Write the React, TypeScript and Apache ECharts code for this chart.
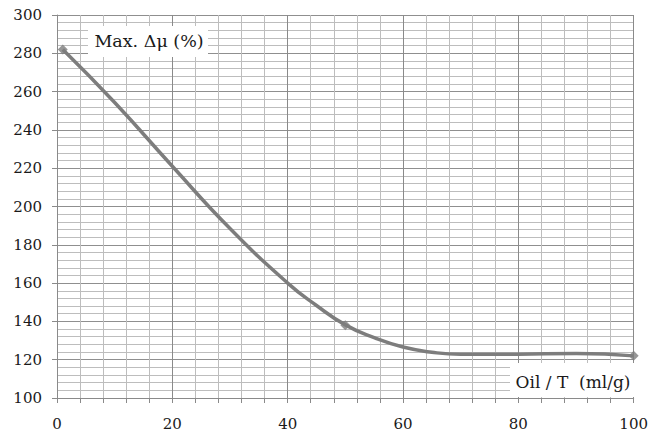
import React, { useEffect, useRef } from "react";
import * as echarts from "echarts";

// Measured points (markers)
const markerX = [1, 50, 100];
const markerY = [282, 138, 122];

// Curve
const curveX = [1, 10, 20, 30, 40, 45, 50, 55, 60, 65, 70, 80, 90, 100];
const curveY = [282, 254.3, 221, 188.5, 160, 148.3, 138.2, 131.5, 126.6, 123.9, 122.8, 122.9, 123.3, 122];

const yLabel = "Max. Δμ (%)";
const xLabel = "Oil / T  (ml/g)";

const FONT = "DejaVu Serif";

export default function App() {
  const ref = useRef<HTMLDivElement>(null);
  useEffect(() => {
    document.body.style.margin = "0";
    const chart = echarts.init(ref.current!, null, { renderer: "svg" });
    const curve = curveX.map((x, i) => [x, curveY[i]]);
    const marks = markerX.map((x, i) => [x, markerY[i]]);
    chart.setOption({
      animation: false,
      backgroundColor: "#ffffff",
      grid: { left: 57, right: 15, top: 15, bottom: 36 },
      xAxis: {
        type: "value",
        min: 0,
        max: 100,
        interval: 20,
        axisLine: { show: true, lineStyle: { color: "#8a8a8a", width: 1 } },
        axisTick: { show: true, length: 5, lineStyle: { color: "#8a8a8a" } },
        minorTick: { show: true, splitNumber: 5, length: 5, lineStyle: { color: "#8a8a8a" } },
        splitLine: { show: true, lineStyle: { color: "#8a8a8a", width: 1 } },
        minorSplitLine: { show: true, lineStyle: { color: "#bdbdbd", width: 1 } },
        axisLabel: { fontFamily: FONT, fontSize: 15, color: "#1a1a1a", margin: 18 },
      },
      yAxis: {
        type: "value",
        min: 100,
        max: 300,
        interval: 20,
        axisLine: { show: true, lineStyle: { color: "#8a8a8a", width: 1 } },
        axisTick: { show: true, length: 5, lineStyle: { color: "#8a8a8a" } },
        minorTick: { show: false, splitNumber: 5 },
        splitLine: { show: true, lineStyle: { color: "#8f8f8f", width: 1 } },
        minorSplitLine: { show: true, lineStyle: { color: "#bdbdbd", width: 1 } },
        axisLabel: { fontFamily: FONT, fontSize: 15, color: "#1a1a1a", margin: 15 },
      },
      series: [
        {
          type: "line",
          data: curve,
          smooth: 0.5,
          showSymbol: false,
          symbol: "none",
          lineStyle: { color: "#7d7d7d", width: 3.5 },
          z: 3,
        },
        {
          type: "scatter",
          data: marks,
          symbol: "diamond",
          symbolSize: 10,
          itemStyle: { color: "#7d7d7d" },
          z: 4,
        },
      ],
      graphic: [
        {
          type: "rect",
          shape: { x: 88, y: 26, width: 120, height: 31 },
          style: { fill: "#ffffff" },
          z: 10,
        },
        {
          type: "text",
          x: 149,
          y: 41,
          style: {
            text: yLabel,
            fontFamily: FONT,
            fontSize: 17.5,
            fill: "#1a1a1a",
            align: "center",
            verticalAlign: "middle",
          },
          z: 11,
        },
        {
          type: "rect",
          shape: { x: 510, y: 363, width: 125, height: 34 },
          style: { fill: "#ffffff" },
          z: 10,
        },
        {
          type: "text",
          x: 573,
          y: 382,
          style: {
            text: xLabel,
            fontFamily: FONT,
            fontSize: 17,
            fill: "#1a1a1a",
            align: "center",
            verticalAlign: "middle",
          },
          z: 11,
        },
      ],
    });
    return () => chart.dispose();
  }, []);
  return <div ref={ref} style={{ width: 651, height: 434, position: "absolute", left: 0, top: 0 }} />;
}
